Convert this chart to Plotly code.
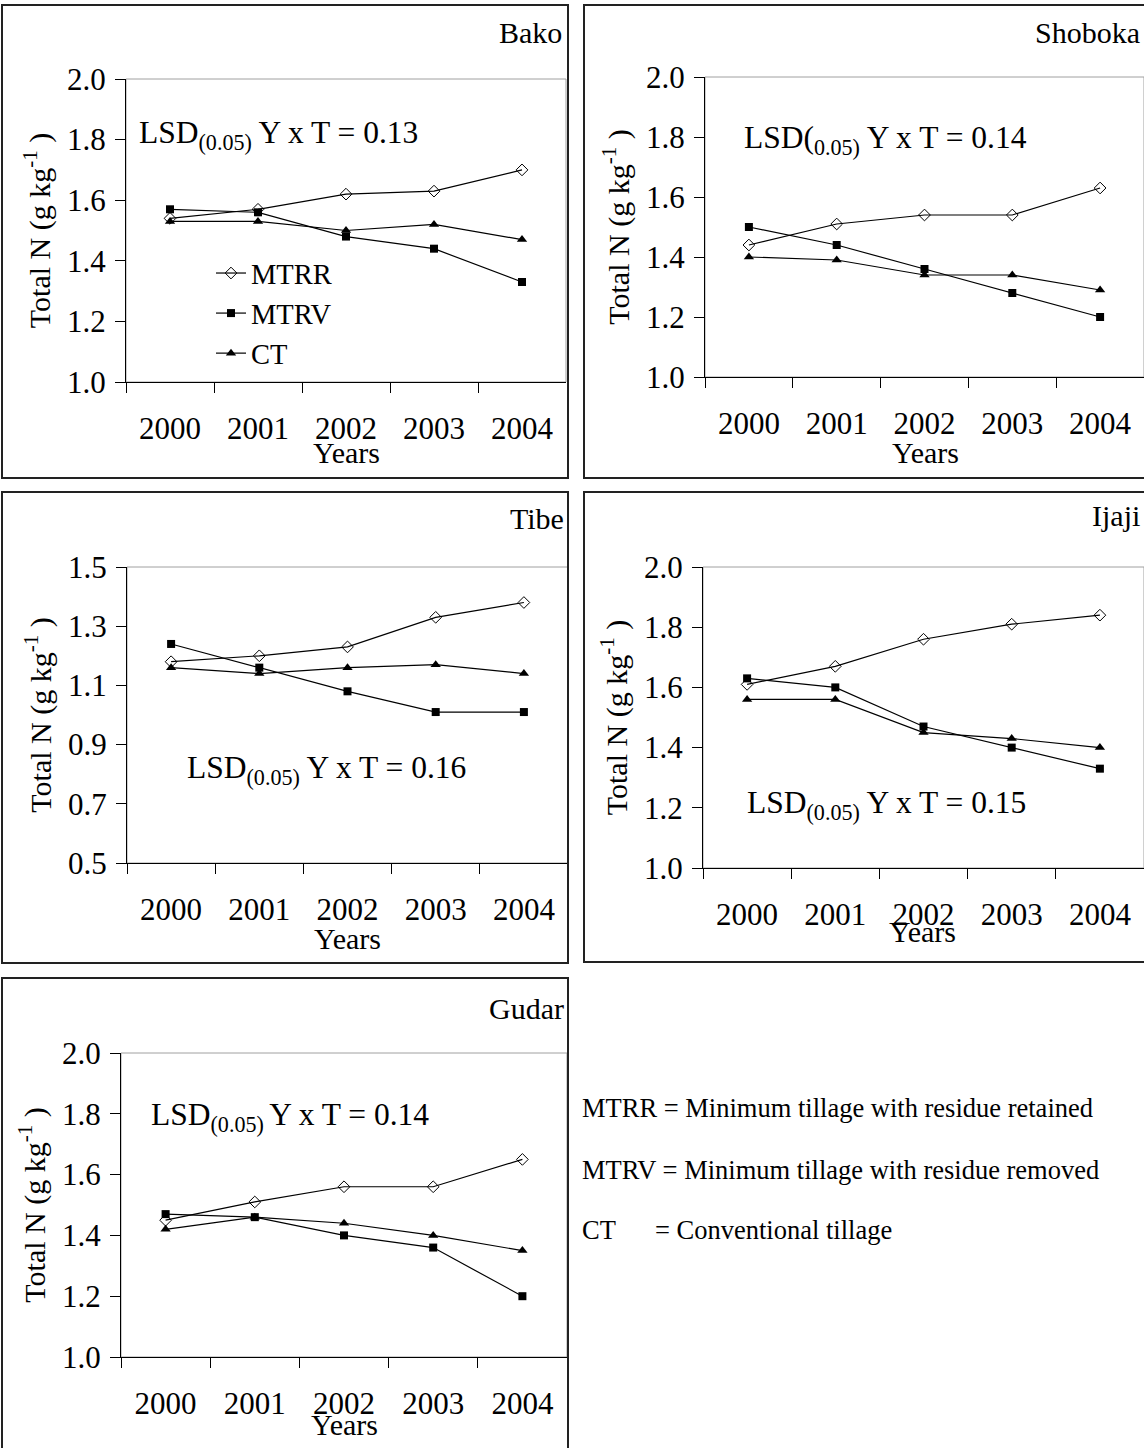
import plotly.graph_objects as go

W, H = 1144, 1448
FONT = "Liberation Serif"

years = ["2000", "2001", "2002", "2003", "2004"]
treatments = ["MTRR", "MTRV", "CT"]

bako_mtrr = [1.54, 1.57, 1.62, 1.63, 1.70]
bako_mtrv = [1.57, 1.56, 1.48, 1.44, 1.33]
bako_ct = [1.53, 1.53, 1.50, 1.52, 1.47]

shoboka_mtrr = [1.44, 1.51, 1.54, 1.54, 1.63]
shoboka_mtrv = [1.50, 1.44, 1.36, 1.28, 1.20]
shoboka_ct = [1.40, 1.39, 1.34, 1.34, 1.29]

tibe_mtrr = [1.18, 1.20, 1.23, 1.33, 1.38]
tibe_mtrv = [1.24, 1.16, 1.08, 1.01, 1.01]
tibe_ct = [1.16, 1.14, 1.16, 1.17, 1.14]

ijaji_mtrr = [1.61, 1.67, 1.76, 1.81, 1.84]
ijaji_mtrv = [1.63, 1.60, 1.47, 1.40, 1.33]
ijaji_ct = [1.56, 1.56, 1.45, 1.43, 1.40]

gudar_mtrr = [1.45, 1.51, 1.56, 1.56, 1.65]
gudar_mtrv = [1.47, 1.46, 1.40, 1.36, 1.20]
gudar_ct = [1.42, 1.46, 1.44, 1.40, 1.35]

site_names = ["Bako", "Shoboka", "Tibe", "Ijaji", "Gudar"]
lsd_texts = [
    "LSD<sub>(0.05)</sub> Y x T = 0.13",
    "LSD(<sub>0.05)</sub> Y x T = 0.14",
    "LSD<sub>(0.05)</sub> Y x T = 0.16",
    "LSD<sub>(0.05)</sub> Y x T = 0.15",
    "LSD<sub>(0.05) </sub>Y x T = 0.14",
]
y_ranges = [(1.0, 2.0), (1.0, 2.0), (0.5, 1.5), (1.0, 2.0), (1.0, 2.0)]
series = [
    (bako_mtrr, bako_mtrv, bako_ct),
    (shoboka_mtrr, shoboka_mtrv, shoboka_ct),
    (tibe_mtrr, tibe_mtrv, tibe_ct),
    (ijaji_mtrr, ijaji_mtrv, ijaji_ct),
    (gudar_mtrr, gudar_mtrv, gudar_ct),
]
note_abbr = ["MTRR", "MTRV", "CT"]
note_desc = ["Minimum tillage with residue retained",
             "Minimum tillage with residue removed",
             "Conventional tillage"]

# layout geometry (pixels): plot area left, right, top, bottom
plot_px = [
    (126, 566, 79, 382),
    (705, 1144, 77, 377),
    (127, 568, 567, 863),
    (703, 1144, 567, 868),
    (121, 567, 1053, 1357),
]
box_px = [
    (2, 568, 5, 478),
    (584, 1150, 5, 478),
    (2, 568, 492, 963),
    (584, 1150, 492, 962),
    (2, 568, 978, 1452),
]
title_px = [(564, 33), (1142, 33), (566, 518), (1142, 515), (566, 1008)]
lsd_px = [(137, 135), (742, 140), (185, 770), (745, 805), (149, 1117)]
years_px = [(346, 453), (925, 453), (347, 938), (923, 931), (344, 1424)]


def px(x):
    return x / W


def py(y):
    return 1 - y / H


styles = {
    "MTRR": dict(symbol="diamond-open", size=9, color="black", line=dict(width=1, color="black")),
    "MTRV": dict(symbol="square", size=8, color="black"),
    "CT": dict(symbol="triangle-up", size=9, color="black"),
}

fig = go.Figure()
shapes = []
annotations = []
layout_axes = {}

for i in range(5):
    n = "" if i == 0 else str(i + 1)
    xa, ya = "x" + n, "y" + n
    L, R, T, B = plot_px[i]
    for name, vals in zip(treatments, series[i]):
        fig.add_trace(go.Scatter(
            x=years, y=vals, xaxis=xa, yaxis=ya, name=name,
            mode="lines+markers",
            line=dict(color="black", width=1.2),
            marker=styles[name],
            showlegend=(i == 0),
        ))
    lo, hi = y_ranges[i]
    layout_axes["xaxis" + n] = dict(
        domain=[px(L), px(R)], anchor=ya, type="category",
        range=[-0.5, 4.5], tickson="boundaries", ticks="outside", ticklen=10,
        tickcolor="black", showline=True, linecolor="black", linewidth=1,
        showgrid=False, zeroline=False, ticklabelstandoff=19, automargin=False,
        tickfont=dict(family=FONT, size=31, color="black"),
    )
    layout_axes["yaxis" + n] = dict(
        domain=[py(B), py(T)], anchor=xa, range=[lo, hi],
        tick0=lo, dtick=0.2, tickformat=".1f",
        ticks="outside", ticklen=10, tickcolor="black",
        showline=True, linecolor="black", linewidth=1,
        showgrid=False, zeroline=False, ticklabelstandoff=3, automargin=False,
        tickfont=dict(family=FONT, size=31, color="black"),
        title=dict(text="Total N (g kg<sup>-1</sup> )", standoff=7,
                   font=dict(family=FONT, size=30, color="black")),
    )
    shapes.append(dict(type="rect", xref="paper", yref="paper",
                       x0=px(L), x1=px(R), y0=py(B), y1=py(T),
                       line=dict(color="#a0a0a0", width=1), layer="below"))
    bl, br, bt, bb = box_px[i]
    shapes.append(dict(type="rect", xref="paper", yref="paper",
                       x0=px(bl), x1=px(br), y0=py(bb), y1=py(bt),
                       line=dict(color="#222222", width=2)))
    tx, ty = title_px[i]
    annotations.append(dict(text=site_names[i], x=px(tx), y=py(ty), xref="paper", yref="paper",
                            xanchor="right", yanchor="middle", showarrow=False,
                            font=dict(family=FONT, size=30, color="black")))
    lx, ly = lsd_px[i]
    annotations.append(dict(text=lsd_texts[i], x=px(lx), y=py(ly), xref="paper", yref="paper",
                            xanchor="left", yanchor="middle", showarrow=False,
                            font=dict(family=FONT, size=31.5, color="black")))
    yx, yy = years_px[i]
    annotations.append(dict(text="Years", x=px(yx), y=py(yy), xref="paper", yref="paper",
                            xanchor="center", yanchor="middle", showarrow=False,
                            font=dict(family=FONT, size=30, color="black")))

note_y = [1108, 1170, 1230]
for abbr, desc, ny in zip(note_abbr, note_desc, note_y):
    if abbr == "CT":
        annotations.append(dict(text=abbr, x=px(580), y=py(ny), xref="paper", yref="paper",
                                xanchor="left", yanchor="middle", showarrow=False,
                                font=dict(family=FONT, size=26.5, color="black")))
        annotations.append(dict(text="= " + desc, x=px(653), y=py(ny), xref="paper", yref="paper",
                                xanchor="left", yanchor="middle", showarrow=False,
                                font=dict(family=FONT, size=26.5, color="black")))
    else:
        annotations.append(dict(text=abbr + " = " + desc, x=px(580), y=py(ny), xref="paper", yref="paper",
                                xanchor="left", yanchor="middle", showarrow=False,
                                font=dict(family=FONT, size=26.5, color="black")))

fig.update_layout(
    width=W, height=H, autosize=False,
    margin=dict(l=0, r=0, t=0, b=0, pad=0, autoexpand=False),
    paper_bgcolor="white", plot_bgcolor="white",
    font=dict(family=FONT, size=30, color="black"),
    showlegend=True,
    legend=dict(x=px(211), y=py(248), xanchor="left", yanchor="top",
                bgcolor="rgba(0,0,0,0)", borderwidth=0,
                font=dict(family=FONT, size=28.5, color="black"),
                tracegroupgap=0, itemwidth=30),
    shapes=shapes,
    annotations=annotations,
    **layout_axes,
)

fig.write_html("out.html", config={"displayModeBar": False},
               post_script="document.body.style.margin='0px';")
